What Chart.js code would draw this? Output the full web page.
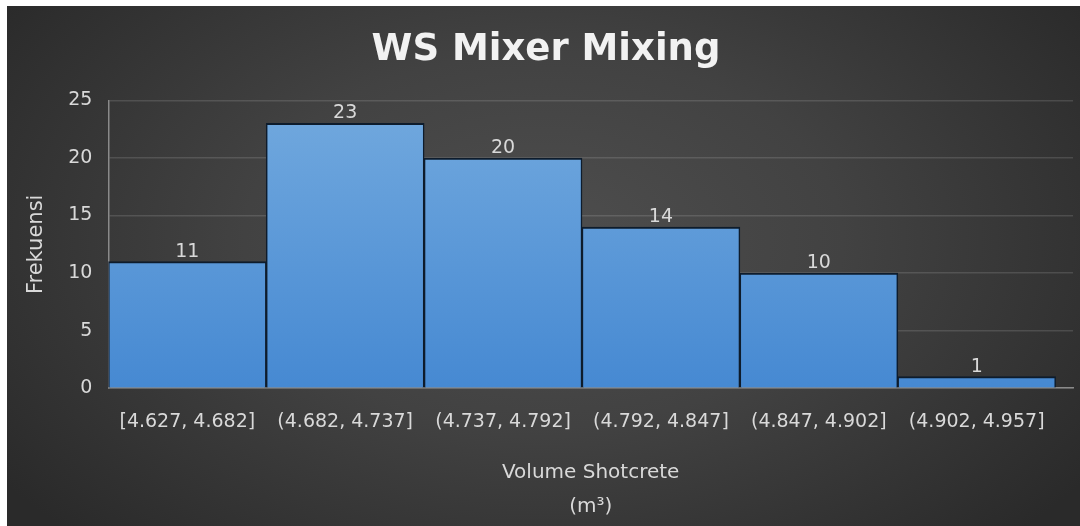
<!DOCTYPE html>
<html>
<head>
<meta charset="utf-8">
<script src="https://cdn.jsdelivr.net/npm/chart.js@4/dist/chart.umd.min.js"></script>
<style>
  html, body { margin: 0; padding: 0; background: #ffffff; }
  #wrap {
    position: absolute;
    left: 7px;
    top: 6px;
    width: 1073px;
    height: 520px;
    background: radial-gradient(ellipse 62% 80% at 50% 45%, #4e4e4e 0%, #424242 45%, #2a2a2a 100%);
  }
</style>
</head>
<body>
<div id="wrap"><canvas id="chart" width="1073" height="520"></canvas></div>
<script>
const binLabels = [
  "[4.627, 4.682]",
  "(4.682, 4.737]",
  "(4.737, 4.792]",
  "(4.792, 4.847]",
  "(4.847, 4.902]",
  "(4.902, 4.957]",
];
const binMids = [0.5, 1.5, 2.5, 3.5, 4.5, 5.5];
const frequencies = [11, 23, 20, 14, 10, 1];
const yTicks = [0, 5, 10, 15, 20, 25];

const FONT = "DejaVu Sans";
const TEXT = "#d9d9d9";

function barGradient(context) {
  const { chart } = context;
  const area = chart.chartArea;
  if (!area) return "#5b9bd5";
  const g = chart.ctx.createLinearGradient(0, area.top, 0, area.bottom);
  g.addColorStop(0, "#72a9de");
  g.addColorStop(1, "#4689d2");
  return g;
}

// value labels above each bar
const barValueLabels = {
  id: "barValueLabels",
  afterDatasetsDraw(chart) {
    const { ctx } = chart;
    const meta = chart.getDatasetMeta(0);
    ctx.save();
    ctx.fillStyle = TEXT;
    ctx.font = `19px "${FONT}"`;
    ctx.textAlign = "center";
    ctx.textBaseline = "alphabetic";
    meta.data.forEach((bar, i) => {
      ctx.fillText(String(frequencies[i]), bar.x, bar.y - 5);
    });
    ctx.restore();
  },
};

new Chart(document.getElementById("chart"), {
  type: "bar",
  data: {
    datasets: [{
      label: "Frekuensi",
      data: binMids.map((x, i) => ({ x, y: frequencies[i] })),
      backgroundColor: barGradient,
      borderColor: "#0e1c2c",
      borderWidth: { top: 2, left: 1.5, right: 1.5, bottom: 0 },
      borderSkipped: false,
      barPercentage: 1,
      categoryPercentage: 1,
    }],
  },
  options: {
    responsive: false,
    animation: false,
    layout: { padding: { left: 12, right: 7, top: 0, bottom: 2 } },
    plugins: {
      legend: { display: false },
      tooltip: { enabled: false },
      title: {
        display: true,
        text: "WS Mixer Mixing",
        color: "#f2f2f2",
        font: { family: FONT, size: 37, weight: "bold" },
        padding: { top: 22, bottom: 28 },
      },
    },
    scales: {
      x: {
        type: "linear",
        min: 0,
        max: 6.11,
        offset: false,
        afterBuildTicks: (axis) => {
          axis.ticks = binMids.map((v) => ({ value: v }));
        },
        grid: { display: false, drawTicks: false },
        border: { display: true, color: "#8a8a8a", width: 1.5 },
        ticks: {
          color: TEXT,
          font: { family: FONT, size: 19 },
          padding: 22.5,
          autoSkip: false,
          maxRotation: 0,
          callback: (value, index) => binLabels[index],
        },
        title: {
          display: true,
          text: ["Volume Shotcrete", "(m³)"],
          color: TEXT,
          font: { family: FONT, size: 20, lineHeight: 1.7 },
          padding: { top: 0, bottom: 0 },
        },
      },
      y: {
        min: 0,
        max: 25,
        afterBuildTicks: (axis) => {
          axis.ticks = yTicks.map((v) => ({ value: v }));
        },
        grid: { color: "rgba(255,255,255,0.13)", lineWidth: 1.5, drawTicks: false },
        border: { display: true, color: "#8a8a8a", width: 1.5 },
        ticks: {
          color: TEXT,
          font: { family: FONT, size: 19 },
          padding: 16,
        },
        title: {
          display: true,
          text: "Frekuensi",
          color: TEXT,
          font: { family: FONT, size: 21 },
          padding: { top: 5, bottom: 3 },
        },
      },
    },
  },
  plugins: [barValueLabels],
});
</script>
</body>
</html>
